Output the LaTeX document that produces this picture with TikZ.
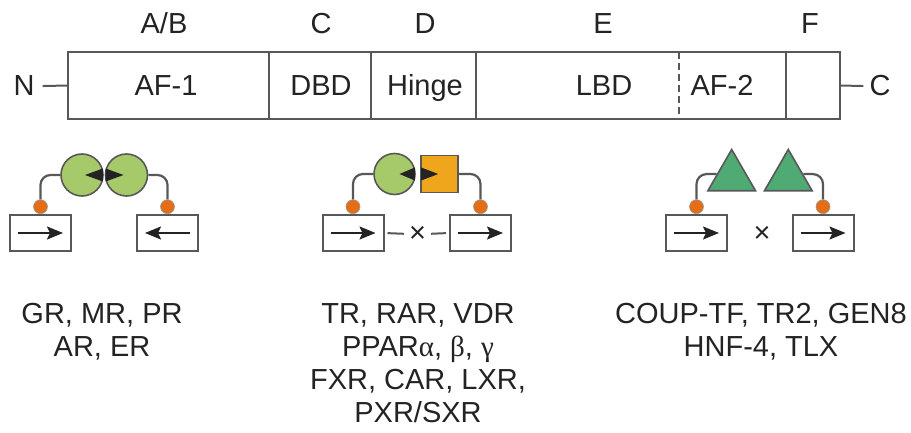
\documentclass[tikz,border=0pt]{standalone}
\usepackage{fontspec}
\setmainfont{Liberation Sans}
\newfontfamily\grk{Liberation Serif}
\usepackage{tikz}
\usetikzlibrary{arrows.meta, positioning, calc, shapes.geometric}
\definecolor{nrGrey}{RGB}{88,88,88}
\definecolor{nrText}{RGB}{35,35,35}
\definecolor{nrLime}{RGB}{166,201,106}
\definecolor{nrTeal}{RGB}{80,170,115}
\definecolor{nrAmber}{RGB}{240,166,28}
\definecolor{nrDot}{RGB}{228,110,22}

\tikzset{
  dom/.style={inner sep=0pt, font=\fontsize{29}{33}\selectfont, text=nrText},
  hre/.style={draw=nrGrey, line width=2pt, fill=white,
              minimum width=61pt, minimum height=36pt, inner sep=0pt},
  hdot/.style={circle, draw=nrGrey!60, line width=0.6pt, fill=nrDot,
               inner sep=0pt, minimum size=14pt, anchor=south},
  tether/.style={draw=nrGrey, line width=2.2pt, rounded corners=10pt},
  halfsite/.style={draw=nrText, line width=1.8pt,
                   -{Stealth[length=16pt, width=13pt, inset=3pt]}},
  lig/.style={draw=nrGrey, line width=1.6pt, inner sep=0pt},
  gapline/.style={draw=nrGrey, line width=2pt}
}

\begin{document}
\begin{tikzpicture}[x=1pt, y=-1pt]
\useasboundingbox (0,0) rectangle (911,433);

% Receptor domain bar
\node[draw=nrGrey, line width=2pt, outer sep=0pt, inner sep=0pt,
      minimum width=772pt, minimum height=67pt] (bar) at (454,85.5) {};
\foreach \dx in {201,303,408,718}
  \draw[nrGrey, line width=2pt] ([xshift=\dx pt]bar.north west) -- ([xshift=\dx pt]bar.south west);
\draw[nrGrey, line width=1.5pt, dash pattern=on 7pt off 4pt]
  ([xshift=611pt]bar.north west) -- ([xshift=611pt]bar.south west);

\foreach \x/\txt/\name in {166/AF-1/af1, 321/DBD/dbd, 425/Hinge/hinge, 604/LBD/lbd, 722/AF-2/af2}
  \node[dom, anchor=base] (\name) at (\x,96) {\txt};
\foreach \x/\lab/\name in {164/{A/B}/regAB, 321/C/regC, 425/D/regD, 603/E/regE, 810/F/regF}
  \node[dom, anchor=base] (\name) at (\x,34) {\lab};

\node[dom, anchor=base] (nterm) at (24,96) {N};
\node[dom, anchor=base] (cterm) at (880,96) {C};
\draw[gapline] ([xshift=8pt]nterm.east) -- (bar.west);
\draw[gapline] (bar.east) -- ([xshift=-6pt]cterm.west);

% Homodimers on inverted repeats
\node[hre] (l1) at (40.5,233) {};
\node[hre] (l2) at (167.5,233) {};
\node[hdot] (d1) at (l1.north) {};
\node[hdot] (d2) at (l2.north) {};
\node[lig, circle, fill=nrLime, minimum size=42pt] (g1) at (82,175) {};
\node[lig, circle, fill=nrLime, minimum size=42pt] (g2) at (126.5,175) {};
\fill[nrText] ($(g1.center)+(3,0)$) -- ($(g1.east)+(-1,-6.5)$) -- ($(g1.east)+(-1,6.5)$) -- cycle;
\fill[nrText] ($(g2.center)+(-3,0)$) -- ($(g2.west)+(1,-6.5)$) -- ($(g2.west)+(1,6.5)$) -- cycle;
\draw[tether] (d1.north) |- (g1.west);
\draw[tether] (d2.north) |- (g2.east);
\draw[halfsite] ([xshift=9pt]l1.west) -- ([xshift=-9pt]l1.east);
\draw[halfsite] ([xshift=-9pt]l2.east) -- ([xshift=9pt]l2.west);

% Heterodimers on direct repeats
\node[hre] (m1) at (353,233) {};
\node[hre] (m2) at (480.5,233) {};
\node[hdot] (d3) at (m1.north) {};
\node[hdot] (d4) at (m2.north) {};
\node[lig, circle, fill=nrLime, minimum size=41pt] (g3) at (394.5,174) {};
\node[lig, fill=nrAmber, minimum size=37pt] (s1) at (439.5,174) {};
\fill[nrText] ($(g3.center)+(5,0)$) -- ($(g3.east)+(-1,-6.5)$) -- ($(g3.east)+(-1,6.5)$) -- cycle;
\fill[nrText] ($(s1.west)+(1,-6.5)$) -- ($(s1.west)+(1,6.5)$) -- ($(s1.west)+(18,0)$) -- cycle;
\draw[tether] (d3.north) |- (g3.west);
\draw[tether] (s1.east) -| (d4.north);
\draw[halfsite] ([xshift=9pt]m1.west) -- ([xshift=-9pt]m1.east);
\draw[halfsite] ([xshift=9pt]m2.west) -- ([xshift=-9pt]m2.east);
\node[dom] (x1) at (417.5,234) {×};
\draw[gapline, shorten <=3pt, shorten >=5pt] (m1.east) -- (x1.west);
\draw[gapline, shorten <=5pt, shorten >=3pt] (x1.east) -- (m2.west);

% Orphan receptors
\node[hre] (r1) at (696.5,233) {};
\node[hre] (r2) at (823,233) {};
\node[hdot] (d5) at (r1.north) {};
\node[hdot] (d6) at (r2.north) {};
\node[lig, regular polygon, regular polygon sides=3, fill=nrTeal, minimum size=55pt] (t1) at (731.7,177) {};
\node[lig, regular polygon, regular polygon sides=3, fill=nrTeal, minimum size=55pt] (t2) at (788.3,177) {};
\draw[tether] (d5.north) |- ($(t1.corner 1)!0.6!(t1.corner 2)$);
\draw[tether] ($(t2.corner 1)!0.6!(t2.corner 3)$) -| (d6.north);
\draw[halfsite] ([xshift=9pt]r1.west) -- ([xshift=-9pt]r1.east);
\draw[halfsite] ([xshift=9pt]r2.west) -- ([xshift=-9pt]r2.east);
\node[dom] (x2) at (762,234) {×};

% Receptor lists
\node[dom, align=center, anchor=north] (grp1) at (102,303) {GR, MR, PR\\AR, ER};
\node[dom, align=center, anchor=north] (grp2) at (418,303)
  {TR, RAR, VDR\\PPAR{\grk α}, {\grk β}, {\grk γ}\\FXR, CAR, LXR,\\PXR/SXR};
\node[dom, align=center, anchor=north] (grp3) at (761,303) {COUP-TF, TR2, GEN8\\HNF-4, TLX};

\end{tikzpicture}
\end{document}
